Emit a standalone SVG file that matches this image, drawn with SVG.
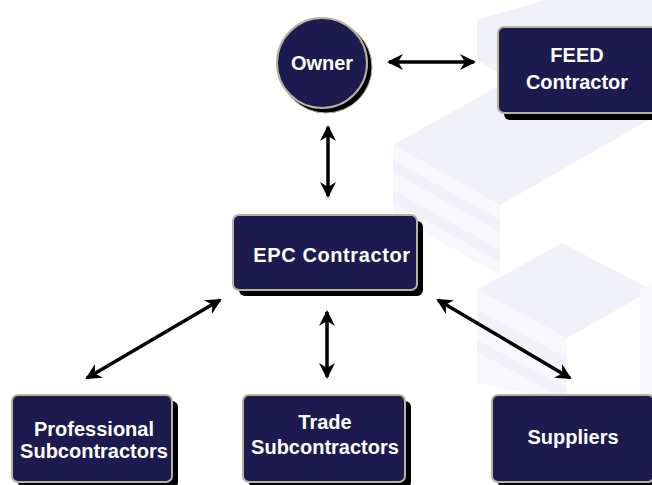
<svg xmlns="http://www.w3.org/2000/svg" width="652" height="485" viewBox="0 0 652 485">
  <defs>
    <style>
      .bg { fill: #f1f2f9; }
      .bg2 { fill: #f7f7fc; }
      .box { fill: #1c1a4f; stroke: #b5b39c; stroke-width: 2; }
      .shadow { fill: #000000; }
      .lbl { font-family: "Liberation Sans", Arial, sans-serif; font-weight: bold; font-size: 20px; fill: #ffffff; text-anchor: middle; }
      .conn { stroke: #000000; stroke-width: 3.5; fill: none; marker-start: url(#ah); marker-end: url(#ah); }
    </style>
    <marker id="ah" viewBox="0 0 16 16" refX="14" refY="8" markerWidth="16" markerHeight="16" markerUnits="userSpaceOnUse" orient="auto-start-reverse">
      <path d="M0,0 L16,8 L0,16 L5,8 Z" fill="#000000"/>
    </marker>
  </defs>
  <rect width="652" height="485" fill="#ffffff"/>

  <g id="background">
    <polygon class="bg" points="477,20 545,0 652,0 652,40 545,100 477,60"/>
    <polygon class="bg" points="393,145 545,60 652,118 500,205"/>
    <polygon class="bg2" points="393,145 500,205 500,275 393,215"/>
    <polygon class="bg" points="393,160 500,220 500,232 393,172"/>
    <polygon class="bg" points="393,190 500,250 500,262 393,202"/>
    <polygon class="bg" points="477,290 562,243 652,290 567,338"/>
    <polygon class="bg2" points="477,290 567,338 567,400 477,383"/>
    <polygon class="bg" points="477,310 567,358 567,370 477,322"/>
    <polygon class="bg" points="477,340 567,388 567,400 477,352"/>
    <polygon class="bg2" points="640,290 652,284 652,400 640,400"/>
  </g>

  <g id="connectors">
    <line class="conn" x1="389" y1="62" x2="474" y2="62"/>
    <line class="conn" x1="328" y1="127" x2="328" y2="196"/>
    <line class="conn" x1="327" y1="312" x2="327" y2="377"/>
    <line class="conn" x1="220" y1="300" x2="87" y2="378"/>
    <line class="conn" x1="438" y1="300" x2="570" y2="378"/>
  </g>

  <g id="owner">
    <circle cx="326" cy="67" r="46" class="shadow" stroke="#b5b39c" stroke-width="1"/>
    <circle cx="322" cy="63" r="45" class="box"/>
    <text class="lbl" x="322" y="70" font-size="19">Owner</text>
  </g>

  <g id="feed-contractor">
    <rect x="504" y="34" width="160" height="86" rx="6" class="shadow"/>
    <rect x="498" y="27" width="160" height="86" rx="6" class="box"/>
    <text class="lbl" x="577" y="62">FEED</text>
    <text class="lbl" x="577" y="89">Contractor</text>
  </g>

  <g id="epc-contractor">
    <rect x="239" y="221" width="184" height="75" rx="6" class="shadow"/>
    <rect x="233" y="215" width="184" height="75" rx="6" class="box"/>
    <text class="lbl" x="332" y="262" letter-spacing="0.6">EPC Contractor</text>
  </g>

  <g id="professional-subcontractors">
    <rect x="18" y="401" width="160" height="87" rx="6" class="shadow"/>
    <rect x="12" y="395" width="160" height="87" rx="6" class="box"/>
    <text class="lbl" x="94" y="436">Professional</text>
    <text class="lbl" x="94" y="458">Subcontractors</text>
  </g>

  <g id="trade-subcontractors">
    <rect x="249" y="401" width="162" height="87" rx="6" class="shadow"/>
    <rect x="243" y="395" width="162" height="87" rx="6" class="box"/>
    <text class="lbl" x="325" y="429">Trade</text>
    <text class="lbl" x="325" y="454">Subcontractors</text>
  </g>

  <g id="suppliers">
    <rect x="498" y="401" width="162" height="87" rx="6" class="shadow"/>
    <rect x="492" y="395" width="162" height="87" rx="6" class="box"/>
    <text class="lbl" x="573" y="444">Suppliers</text>
  </g>
</svg>
